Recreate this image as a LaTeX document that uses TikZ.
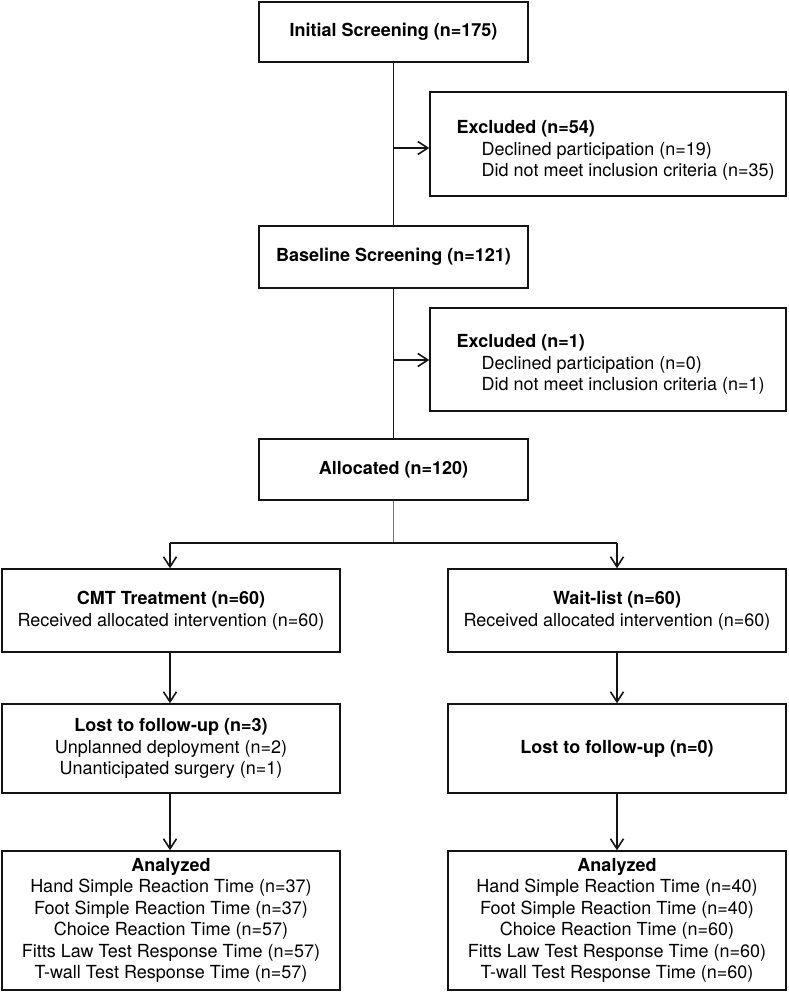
\documentclass[tikz,border=0pt]{standalone}
\usepackage{fontspec}
\setmainfont{TeX Gyre Heros}
\usetikzlibrary{arrows.meta}
\definecolor{lblue}{RGB}{60,130,210}
\definecolor{lnk}{RGB}{20,20,20}
\newcommand\diagfont{\fontsize{18}{21.5}\selectfont}
\begin{document}
\begin{tikzpicture}[x=1pt,y=-1pt,
  box/.style n args={2}{draw=lnk, line width=1.5pt, minimum width=#1, minimum height=#2,
    inner sep=0pt, align=center, font=\diagfont},
  txt/.style={inner sep=0pt, align=left, font=\diagfont, anchor=west},
  conn/.style={draw=lnk, line width=1.6pt},
  arr/.style={conn, -{Straight Barb[length=10pt,width=13pt]}}]
\useasboundingbox (0,0) rectangle (788,992);
\fill[white] (0,0) rectangle (788,992);

% boxes
\node[box={269pt}{60pt}] (init) at (393.5,32) {\textbf{Initial Screening (n=175)}};
\node[box={356pt}{104pt}] (ex1) at (608,144) {};
\node[txt] (ex1t) at (456.5,150.5) {\textbf{Excluded (n=54)}\\\hspace*{25pt}Declined participation (n=19)\\\hspace*{25pt}Did not meet inclusion criteria (n=35)};
\node[box={269pt}{62pt}] (base) at (393.5,257) {\textbf{Baseline Screening (n=121)}};
\node[box={356pt}{103pt}] (ex2) at (608,359.5) {};
\node[txt] (ex2t) at (456.5,364.5) {\textbf{Excluded (n=1)}\\\hspace*{25pt}Declined participation (n=0)\\\hspace*{25pt}Did not meet inclusion criteria (n=1)};
\node[box={269pt}{61pt}] (alloc) at (393.5,469.5) {\textbf{Allocated (n=120)}};

\node[box={338pt}{83pt}] (cmt) at (171,610.5) {\textbf{CMT Treatment (n=60)}\\Received allocated intervention (n=60)};
\node[box={338pt}{83pt}] (wait) at (617,610.5) {\textbf{Wait-list (n=60)}\\Received allocated intervention (n=60)};

\node[box={338pt}{89pt}] (lost1) at (171,748.5) {\textbf{Lost to follow-up (n=3)}\\Unplanned deployment (n=2)\\Unanticipated surgery (n=1)};
\node[box={338pt}{89pt}] (lost2) at (617,748.5) {\textbf{Lost to follow-up (n=0)}};

\node[box={338pt}{139pt}] (an1) at (171,920.5) {\textbf{Analyzed}\\Hand Simple Reaction Time (n=37)\\Foot Simple Reaction Time (n=37)\\Choice Reaction Time (n=57)\\Fitts Law Test Response Time (n=57)\\T-wall Test Response Time (n=57)};
\node[box={338pt}{139pt}] (an2) at (617,920.5) {\textbf{Analyzed}\\Hand Simple Reaction Time (n=40)\\Foot Simple Reaction Time (n=40)\\Choice Reaction Time (n=60)\\Fitts Law Test Response Time (n=60)\\T-wall Test Response Time (n=60)};

% connectors
\draw[conn] (init.south) -- (base.north);
\draw[conn] (base.south) -- (alloc.north);
\coordinate (j1) at (393.5,148);
\coordinate (j2) at (393.5,360);
\draw[arr] (j1) -- (j1 -| ex1.west);
\draw[arr] (j2) -- (j2 -| ex2.west);

\coordinate (split) at (393.5,543);
\coordinate (sl) at (170,543);
\coordinate (sr) at (617,543);
\draw[draw=lblue, line width=1.3pt] (alloc.south) -- (split);
\draw[conn] (sl) -- (sr);
\draw[arr] (sl) -- (sl |- cmt.north);
\draw[arr] (sr) -- (wait.north);

\draw[arr] (cmt.south -| sl) -- (lost1.north -| sl);
\draw[arr] (wait.south) -- (lost2.north);
\draw[arr] (lost1.south -| sl) -- (an1.north -| sl);
\draw[arr] (lost2.south) -- (an2.north);
\end{tikzpicture}
\end{document}
